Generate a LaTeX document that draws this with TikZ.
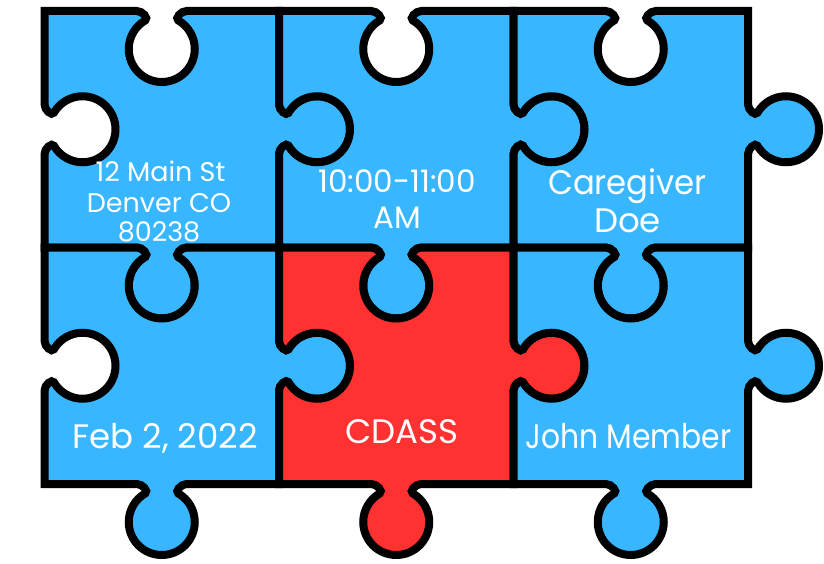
\documentclass[tikz,border=0pt]{standalone}
\usepackage{fontspec}
\setmainfont{Poppins}
\definecolor{pblue}{HTML}{38B6FF}
\definecolor{pred}{HTML}{FF3131}
\tikzset{
  piecepath/.style={insert path={
    (0,0) -- (92.25,0)
    .. controls (98.25,0) and (104.21,7.42) .. (100.75,9.42)
    .. controls (90.54,15.32) and (84.25,26.21) .. (84.25,38)
    .. controls (84.25,56.23) and (99.02,71) .. (117.25,71)
    .. controls (135.48,71) and (150.25,56.23) .. (150.25,38)
    .. controls (150.25,26.21) and (143.96,15.32) .. (133.75,9.42)
    .. controls (130.29,7.42) and (136.25,0) .. (142.25,0)
    -- (234.5,0) -- (234.5,93.25)
    .. controls (234.5,99.25) and (241.92,105.21) .. (243.92,101.75)
    .. controls (249.82,91.54) and (260.71,85.25) .. (272.5,85.25)
    .. controls (290.73,85.25) and (305.5,100.02) .. (305.5,118.25)
    .. controls (305.5,136.48) and (290.73,151.25) .. (272.5,151.25)
    .. controls (260.71,151.25) and (249.82,144.96) .. (243.92,134.75)
    .. controls (241.92,131.29) and (234.5,137.25) .. (234.5,143.25)
    -- (234.5,236.5) -- (142.25,236.5)
    .. controls (136.25,236.5) and (130.29,243.92) .. (133.75,245.92)
    .. controls (143.96,251.82) and (150.25,262.71) .. (150.25,274.5)
    .. controls (150.25,292.73) and (135.48,307.5) .. (117.25,307.5)
    .. controls (99.02,307.5) and (84.25,292.73) .. (84.25,274.5)
    .. controls (84.25,262.71) and (90.54,251.82) .. (100.75,245.92)
    .. controls (104.21,243.92) and (98.25,236.5) .. (92.25,236.5)
    -- (0,236.5) -- (0,143.25)
    .. controls (0,137.25) and (7.42,131.29) .. (9.42,134.75)
    .. controls (15.32,144.96) and (26.21,151.25) .. (38,151.25)
    .. controls (56.23,151.25) and (71,136.48) .. (71,118.25)
    .. controls (71,100.02) and (56.23,85.25) .. (38,85.25)
    .. controls (26.21,85.25) and (15.32,91.54) .. (9.42,101.75)
    .. controls (7.42,105.21) and (0,99.25) .. (0,93.25)
    -- cycle}},
  piece/.style={draw=black, line width=8pt},
  lbl/.style={text=white, anchor=base, inner sep=0pt},
  small/.style={font=\fontsize{27}{27}\selectfont},
  mid/.style={font=\fontsize{31}{31}\selectfont},
  big/.style={font=\fontsize{34}{34}\selectfont},
}
\begin{document}
\begin{tikzpicture}[x=1pt,y=-1pt]
\useasboundingbox (0,0) rectangle (824,564);
\path[piece, fill=pblue, shift={(44.5,11)}] [piecepath];
\path[piece, fill=pblue, shift={(279,11)}] [piecepath];
\path[piece, fill=pblue, shift={(513.5,11)}] [piecepath];
\path[piece, fill=pblue, shift={(44.5,247.5)}] [piecepath];
\path[piece, fill=pred, shift={(279,247.5)}] [piecepath];
\path[piece, fill=pblue, shift={(513.5,247.5)}] [piecepath];
\node[lbl, small] (a1) at (160.5,182) {12 Main St};
\node[lbl, small] (a2) at (159,212) {Denver CO};
\node[lbl, small] (a3) at (159,241) {80238};
\node[lbl, mid] (b1) at (397,193) {10:00-11:00};
\node[lbl, mid] (b2) at (397.5,228) {AM};
\node[lbl, big] (c1) at (627.5,195) {\scalebox{0.95}[1]{Caregiver}};
\node[lbl, big] (c2) at (627.5,232) {Doe};
\node[lbl, big] (d1) at (165,448) {Feb 2, 2022};
\node[lbl, big] (e1) at (402,443) {CDASS};
\node[lbl, big] (f1) at (628.5,448) {\scalebox{0.875}[1]{John Member}};
\end{tikzpicture}
\end{document}
